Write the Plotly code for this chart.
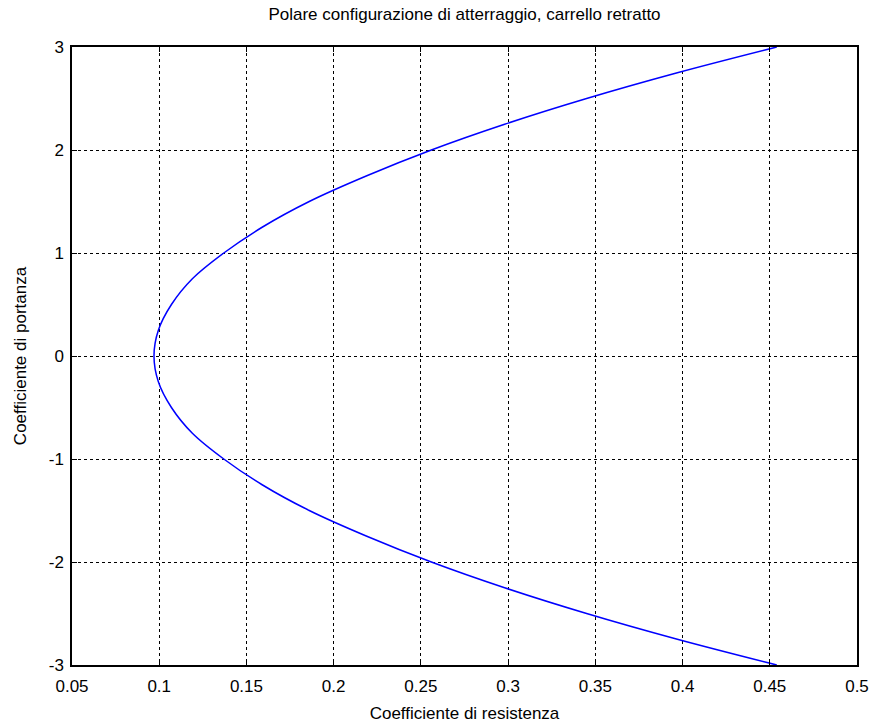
import plotly.graph_objects as go

# Lift coefficient (CL) and drag coefficient (CD)
cl_values = [-3.0, -2.75, -2.5, -2.25, -2.0, -1.75, -1.5, -1.25, -1.0, -0.75, -0.5, -0.25,
             0.0, 0.25, 0.5, 0.75, 1.0, 1.25, 1.5, 1.75, 2.0, 2.25, 2.5, 2.75, 3.0]
cd_values = [0.454, 0.397, 0.345, 0.298, 0.256, 0.219, 0.186, 0.159, 0.137, 0.119, 0.107, 0.0995,
             0.097, 0.0995, 0.107, 0.119, 0.137, 0.159, 0.186, 0.219, 0.256, 0.298, 0.345, 0.397, 0.454]

x_ticks = [0.05, 0.1, 0.15, 0.2, 0.25, 0.3, 0.35, 0.4, 0.45, 0.5]
x_tick_labels = ["0.05", "0.1", "0.15", "0.2", "0.25", "0.3", "0.35", "0.4", "0.45", "0.5"]
y_ticks = [-3, -2, -1, 0, 1, 2, 3]
y_tick_labels = ["-3", "-2", "-1", "0", "1", "2", "3"]

title_text = "Polare configurazione di atterraggio, carrello retratto"
x_title = "Coefficiente di resistenza"
y_title = "Coefficiente di portanza"

FONT = "Liberation Sans, Arial, sans-serif"

fig = go.Figure()
fig.add_trace(go.Scatter(
    x=cd_values, y=cl_values, mode="lines",
    line=dict(color="#0000ff", width=1.5, shape="spline"),
    showlegend=False, hoverinfo="x+y",
))

axis_common = dict(
    showline=True, linecolor="black", linewidth=1.5, mirror="ticks",
    ticks="inside", ticklen=5, tickcolor="black", tickwidth=1,
    showgrid=True, gridcolor="black", gridwidth=1, griddash="dot",
    zeroline=False, automargin=False,
    tickfont=dict(family=FONT, size=17, color="black"),
)

fig.update_layout(
    width=876, height=728,
    margin=dict(l=72, r=19, t=47, b=63),
    paper_bgcolor="white", plot_bgcolor="white",
    title=dict(text=title_text, x=0.5, xref="paper", xanchor="center",
               y=1 - 14 / 728, yanchor="middle",
               font=dict(family=FONT, size=17, color="black")),
    xaxis=dict(range=[0.05, 0.5], tickvals=x_ticks, ticktext=x_tick_labels,
               ticklabelstandoff=5,
               title=dict(text=x_title, font=dict(family=FONT, size=17, color="black"), standoff=12),
               **axis_common),
    yaxis=dict(range=[-3, 3], tickvals=y_ticks, ticktext=y_tick_labels,
               ticklabelstandoff=3,
               title=dict(text=y_title, font=dict(family=FONT, size=17, color="black"), standoff=18),
               **axis_common),
)

fig.write_html("out.html")
